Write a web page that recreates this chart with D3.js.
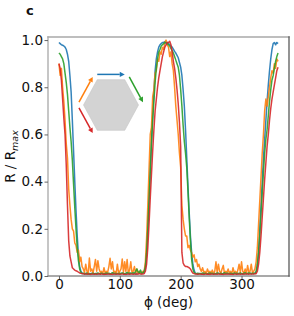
<!DOCTYPE html>
<html>
<head>
<meta charset="utf-8">
<script src="https://cdn.jsdelivr.net/npm/d3@7"></script>
<style>
  body { margin: 0; background: #fff; }
  svg { display: block; font-family: "DejaVu Sans", sans-serif; }
</style>
</head>
<body>
<div id="chart"></div>
<script>
// Rotation angle grid (deg)
const PHI = [
  0, 2, 4, 6, 8, 10, 12, 14, 16, 18,
  20, 22, 24, 26, 28, 30, 32, 34, 36, 38,
  40, 42, 44, 46, 48, 50, 52, 54, 56, 58,
  60, 62, 64, 66, 68, 70, 72, 74, 76, 78,
  80, 82, 84, 86, 88, 90, 92, 94, 96, 98,
  100, 102, 104, 106, 108, 110, 112, 114, 116, 118,
  120, 122, 124, 126, 128, 130, 132, 134, 136, 138,
  140, 142, 144, 146, 148, 150, 152, 154, 156, 158,
  160, 162, 164, 166, 168, 170, 172, 174, 176, 178,
  180, 182, 184, 186, 188, 190, 192, 194, 196, 198,
  200, 202, 204, 206, 208, 210, 212, 214, 216, 218,
  220, 222, 224, 226, 228, 230, 232, 234, 236, 238,
  240, 242, 244, 246, 248, 250, 252, 254, 256, 258,
  260, 262, 264, 266, 268, 270, 272, 274, 276, 278,
  280, 282, 284, 286, 288, 290, 292, 294, 296, 298,
  300, 302, 304, 306, 308, 310, 312, 314, 316, 318,
  320, 322, 324, 326, 328, 330, 332, 334, 336, 338,
  340, 342, 344, 346, 348, 350, 352, 354, 356, 358,
  360,
];

// R / Rmax, one array per edge direction
const BLUE = [
  0.99, 0.985, 0.98, 0.978, 0.975, 0.97, 0.96, 0.94, 0.91, 0.85,
  0.78, 0.66, 0.53, 0.4, 0.28, 0.17, 0.09, 0.04, 0.02, 0.012,
  0.01, 0.008, 0.011, 0.009, 0.01, 0.007, 0.01, 0.012, 0.008, 0.01,
  0.009, 0.011, 0.008, 0.01, 0.009, 0.012, 0.008, 0.01, 0.007, 0.01,
  0.011, 0.008, 0.01, 0.009, 0.012, 0.01, 0.008, 0.011, 0.009, 0.01,
  0.008, 0.01, 0.012, 0.009, 0.01, 0.008, 0.011, 0.01, 0.009, 0.012,
  0.01, 0.009, 0.011, 0.008, 0.012, 0.01, 0.014, 0.011, 0.01, 0.012,
  0.015, 0.03, 0.09, 0.2, 0.32, 0.45, 0.57, 0.68, 0.78, 0.87,
  0.92, 0.95, 0.97, 0.98, 0.985, 0.99, 0.99, 0.993, 0.985, 0.99,
  0.985, 0.98, 0.975, 0.97, 0.962, 0.952, 0.945, 0.935, 0.925, 0.905,
  0.885, 0.85, 0.79, 0.72, 0.62, 0.5, 0.38, 0.27, 0.17, 0.1,
  0.05, 0.025, 0.012, 0.01, 0.008, 0.011, 0.009, 0.01, 0.008, 0.01,
  0.011, 0.009, 0.01, 0.008, 0.012, 0.01, 0.009, 0.011, 0.008, 0.01,
  0.01, 0.012, 0.009, 0.01, 0.008, 0.011, 0.01, 0.009, 0.012, 0.01,
  0.008, 0.01, 0.011, 0.009, 0.01, 0.012, 0.008, 0.01, 0.011, 0.009,
  0.01, 0.008, 0.012, 0.01, 0.009, 0.011, 0.01, 0.012, 0.009, 0.011,
  0.01, 0.012, 0.015, 0.04, 0.1, 0.2, 0.3, 0.4, 0.5, 0.58,
  0.66, 0.74, 0.81, 0.87, 0.92, 0.96, 0.985, 0.99, 0.98, 0.99,
  0.985,
];

const ORANGE = [
  0.9, 0.85, 0.88, 0.8, 0.74, 0.66, 0.56, 0.5, 0.37, 0.3,
  0.24, 0.2, 0.19, 0.14, 0.13, 0.1, 0.11, 0.06, 0.08, 0.04,
  0.03, 0.015, 0.05, 0.02, 0.01, 0.076, 0.02, 0.03, 0.012, 0.04,
  0.07, 0.02, 0.065, 0.03, 0.015, 0.02, 0.01, 0.035, 0.012, 0.02,
  0.015, 0.04, 0.075, 0.03, 0.06, 0.015, 0.02, 0.01, 0.05, 0.012,
  0.02, 0.03, 0.072, 0.015, 0.06, 0.02, 0.07, 0.012, 0.025, 0.06,
  0.015, 0.02, 0.04, 0.012, 0.03, 0.01, 0.02, 0.015, 0.01, 0.02,
  0.02, 0.06, 0.16, 0.3, 0.45, 0.6, 0.63, 0.76, 0.79, 0.86,
  0.87, 0.92, 0.91, 0.95, 0.94, 0.97, 0.96, 0.99, 1.0, 0.98,
  0.97, 0.93, 0.95, 0.9, 0.87, 0.8, 0.72, 0.66, 0.6, 0.52,
  0.46, 0.3, 0.24, 0.2, 0.17, 0.17, 0.12, 0.13, 0.11, 0.1,
  0.08, 0.09, 0.06, 0.07, 0.04, 0.05, 0.03, 0.02, 0.035, 0.015,
  0.02, 0.01, 0.03, 0.015, 0.02, 0.012, 0.025, 0.01, 0.02, 0.06,
  0.015, 0.05, 0.02, 0.012, 0.03, 0.045, 0.01, 0.02, 0.015, 0.03,
  0.012, 0.02, 0.01, 0.035, 0.015, 0.02, 0.01, 0.025, 0.05, 0.015,
  0.06, 0.02, 0.012, 0.03, 0.01, 0.045, 0.015, 0.02, 0.05, 0.012,
  0.02, 0.03, 0.06, 0.12, 0.22, 0.32, 0.42, 0.52, 0.6, 0.7,
  0.75, 0.72, 0.76, 0.8, 0.84, 0.87, 0.86, 0.9, 0.88, 0.92,
  0.91,
];

const GREEN = [
  0.945, 0.94, 0.93, 0.92, 0.9, 0.86, 0.82, 0.77, 0.7, 0.63,
  0.57, 0.49, 0.39, 0.29, 0.2, 0.12, 0.065, 0.03, 0.015, 0.01,
  0.012, 0.009, 0.01, 0.013, 0.008, 0.011, 0.01, 0.009, 0.012, 0.01,
  0.011, 0.01, 0.013, 0.009, 0.01, 0.012, 0.01, 0.008, 0.011, 0.013,
  0.01, 0.012, 0.009, 0.011, 0.014, 0.01, 0.012, 0.009, 0.011, 0.01,
  0.012, 0.01, 0.013, 0.011, 0.009, 0.012, 0.015, 0.011, 0.013, 0.01,
  0.012, 0.014, 0.011, 0.02, 0.03, 0.018, 0.013, 0.025, 0.012, 0.014,
  0.02, 0.04, 0.1, 0.2, 0.32, 0.44, 0.56, 0.66, 0.74, 0.82,
  0.88, 0.92, 0.95, 0.96, 0.975, 0.98, 0.985, 0.99, 0.99, 0.985,
  0.98, 0.975, 0.965, 0.955, 0.945, 0.93, 0.915, 0.9, 0.885, 0.85,
  0.79, 0.72, 0.64, 0.57, 0.52, 0.46, 0.36, 0.25, 0.15, 0.07,
  0.03, 0.015, 0.011, 0.01, 0.012, 0.009, 0.011, 0.01, 0.013, 0.01,
  0.012, 0.01, 0.009, 0.011, 0.013, 0.01, 0.012, 0.009, 0.011, 0.01,
  0.013, 0.011, 0.01, 0.012, 0.009, 0.011, 0.014, 0.01, 0.012, 0.011,
  0.01, 0.012, 0.011, 0.009, 0.013, 0.01, 0.012, 0.011, 0.01, 0.013,
  0.011, 0.01, 0.012, 0.014, 0.01, 0.011, 0.013, 0.012, 0.01, 0.012,
  0.012, 0.01, 0.02, 0.05, 0.1, 0.17, 0.26, 0.35, 0.44, 0.52,
  0.58, 0.62, 0.68, 0.74, 0.79, 0.83, 0.85, 0.88, 0.91, 0.93,
  0.945,
];

const RED = [
  0.9, 0.88, 0.83, 0.75, 0.67, 0.6, 0.47, 0.3, 0.15, 0.085,
  0.06, 0.035, 0.03, 0.025, 0.022, 0.02, 0.016, 0.013, 0.012, 0.01,
  0.01, 0.008, 0.009, 0.007, 0.01, 0.008, 0.006, 0.009, 0.008, 0.007,
  0.009, 0.007, 0.008, 0.01, 0.007, 0.008, 0.009, 0.006, 0.008, 0.007,
  0.008, 0.009, 0.007, 0.008, 0.006, 0.009, 0.008, 0.007, 0.009, 0.008,
  0.007, 0.008, 0.009, 0.007, 0.008, 0.006, 0.008, 0.009, 0.007, 0.008,
  0.009, 0.007, 0.008, 0.009, 0.007, 0.008, 0.01, 0.008, 0.009, 0.008,
  0.01, 0.02, 0.05, 0.12, 0.22, 0.33, 0.43, 0.53, 0.62, 0.7,
  0.75, 0.8, 0.84, 0.87, 0.9, 0.93, 0.95, 0.97, 0.98, 0.99,
  0.99, 0.995, 0.98, 0.95, 0.91, 0.88, 0.84, 0.79, 0.73, 0.65,
  0.55, 0.1, 0.055, 0.045, 0.04, 0.04, 0.038, 0.035, 0.03, 0.02,
  0.012, 0.01, 0.008, 0.009, 0.007, 0.008, 0.009, 0.007, 0.008, 0.006,
  0.008, 0.009, 0.007, 0.008, 0.006, 0.009, 0.008, 0.007, 0.009, 0.008,
  0.007, 0.008, 0.009, 0.007, 0.008, 0.006, 0.008, 0.009, 0.007, 0.008,
  0.009, 0.007, 0.008, 0.006, 0.008, 0.009, 0.007, 0.008, 0.009, 0.007,
  0.008, 0.009, 0.007, 0.008, 0.01, 0.008, 0.007, 0.009, 0.008, 0.009,
  0.008, 0.01, 0.01, 0.02, 0.05, 0.1, 0.17, 0.25, 0.33, 0.41,
  0.48, 0.55, 0.6, 0.66, 0.71, 0.75, 0.78, 0.81, 0.84, 0.87,
  0.885,
];

const SERIES = [
  { values: BLUE, color: "#1f77b4" },
  { values: ORANGE, color: "#ff7f0e" },
  { values: GREEN, color: "#2ca02c" },
  { values: RED, color: "#d62728" },
];

const X_TICKS = [0, 100, 200, 300];
const Y_TICKS = [0, 0.2, 0.4, 0.6, 0.8, 1.0];

const width = 294;
const height = 316;
const margin = { top: 37, right: 5, bottom: 40, left: 48 };

const svg = d3
  .select("#chart")
  .append("svg")
  .attr("width", width)
  .attr("height", height);

const x = d3
  .scaleLinear()
  .domain([-18, 378])
  .range([margin.left, width - margin.right]);

const y = d3
  .scaleLinear()
  .domain([0, 1.013])
  .range([height - margin.bottom, margin.top]);

// Curves
const line = d3
  .line()
  .x((d, i) => x(PHI[i]))
  .y((d) => y(d));

svg
  .append("g")
  .selectAll("path")
  .data(SERIES)
  .join("path")
  .attr("d", (s) => line(s.values))
  .attr("fill", "none")
  .attr("stroke", (s) => s.color)
  .attr("stroke-width", 1.5)
  .attr("stroke-linejoin", "round")
  .attr("opacity", 0.9);

// Hexagon inset with edge arrows
const hex = { cx: 111, cy: 105, rx: 27.5, h: 25.3 };
const hexPts = [
  [hex.cx - hex.rx / 2, hex.cy - hex.h],
  [hex.cx + hex.rx / 2, hex.cy - hex.h],
  [hex.cx + hex.rx, hex.cy],
  [hex.cx + hex.rx / 2, hex.cy + hex.h],
  [hex.cx - hex.rx / 2, hex.cy + hex.h],
  [hex.cx - hex.rx, hex.cy],
];

svg
  .append("polygon")
  .attr("points", hexPts.map((p) => p.join(",")).join(" "))
  .attr("fill", "#d3d3d3")
  .attr("stroke", "#c4c4c4")
  .attr("stroke-width", 0.6);

const ARROWS = [
  { from: 0, to: 1, color: "#1f77b4" },
  { from: 5, to: 0, color: "#ff7f0e" },
  { from: 1, to: 2, color: "#2ca02c" },
  { from: 5, to: 4, color: "#d62728" },
];

ARROWS.forEach((a) => {
  const p0 = hexPts[a.from];
  const p1 = hexPts[a.to];
  // push the edge outward from the centre
  const mx = (p0[0] + p1[0]) / 2 - hex.cx;
  const my = (p0[1] + p1[1]) / 2 - hex.cy;
  const ml = Math.hypot(mx, my);
  const off = 5.3;
  const ox = (mx / ml) * off;
  const oy = (my / ml) * off;
  const x0 = p0[0] + ox, y0 = p0[1] + oy;
  const x1 = p1[0] + ox, y1 = p1[1] + oy;
  const dx = x1 - x0, dy = y1 - y0;
  const len = Math.hypot(dx, dy);
  const ux = dx / len, uy = dy / len;
  const headL = 5, headW = 2.6;
  const bx = x1 - ux * headL, by = y1 - uy * headL;

  svg
    .append("line")
    .attr("x1", x0)
    .attr("y1", y0)
    .attr("x2", bx)
    .attr("y2", by)
    .attr("stroke", a.color)
    .attr("stroke-width", 1.5);

  svg
    .append("polygon")
    .attr(
      "points",
      [
        [x1, y1],
        [bx - uy * headW, by + ux * headW],
        [bx + uy * headW, by - ux * headW],
      ]
        .map((p) => p.join(","))
        .join(" ")
    )
    .attr("fill", a.color);
});

// Frame
const x0 = margin.left;
const x1 = width - margin.right;
const y0 = height - margin.bottom;
const y1 = margin.top;
const spines = [
  { x1: x0, y1: y0, x2: x0, y2: y1, c: "#a8a8a8" },
  { x1: x0, y1: y1, x2: x1, y2: y1, c: "#a8a8a8" },
  { x1: x0, y1: y0, x2: x1, y2: y0, c: "#8c8c8c" },
  { x1: x1, y1: y0, x2: x1, y2: y1, c: "#5a5a5a" },
];
svg
  .append("g")
  .selectAll("line")
  .data(spines)
  .join("line")
  .attr("x1", (d) => d.x1)
  .attr("y1", (d) => d.y1)
  .attr("x2", (d) => d.x2)
  .attr("y2", (d) => d.y2)
  .attr("stroke", (d) => d.c)
  .attr("stroke-width", 1.3)
  .attr("stroke-linecap", "square");

// Axes
const xAxis = svg
  .append("g")
  .attr("transform", `translate(0,${y0})`)
  .call(
    d3.axisBottom(x).tickValues(X_TICKS).tickSize(3.5).tickPadding(0)
  );

const yAxis = svg
  .append("g")
  .attr("transform", `translate(${x0},0)`)
  .call(
    d3
      .axisLeft(y)
      .tickValues(Y_TICKS)
      .tickFormat(d3.format(".1f"))
      .tickSize(3.5)
      .tickPadding(1.5)
  );

[xAxis, yAxis].forEach((g) => {
  g.select(".domain").remove();
  g.selectAll(".tick line").attr("stroke", "#666").attr("stroke-width", 1);
  g.selectAll(".tick text")
    .attr("fill", "#111")
    .style("font-family", "DejaVu Sans")
    .style("font-size", "13.5px");
});

// Labels
svg
  .append("text")
  .attr("x", (x0 + x1) / 2)
  .attr("y", 306.5)
  .attr("text-anchor", "middle")
  .attr("fill", "#111")
  .style("font-size", "13.5px")
  .text("ϕ (deg)");

const yLabel = svg
  .append("text")
  .attr("transform", `translate(15,${(y0 + y1) / 2}) rotate(-90)`)
  .attr("text-anchor", "middle")
  .attr("fill", "#111")
  .style("font-size", "13.5px");
yLabel.append("tspan").text("R / R");
yLabel
  .append("tspan")
  .attr("dy", 3)
  .style("font-size", "9.5px")
  .style("font-style", "italic")
  .text("max");

svg
  .append("text")
  .attr("x", 26)
  .attr("y", 15)
  .attr("fill", "#111")
  .style("font-size", "13px")
  .style("font-weight", "bold")
  .text("c");
</script>
</body>
</html>
